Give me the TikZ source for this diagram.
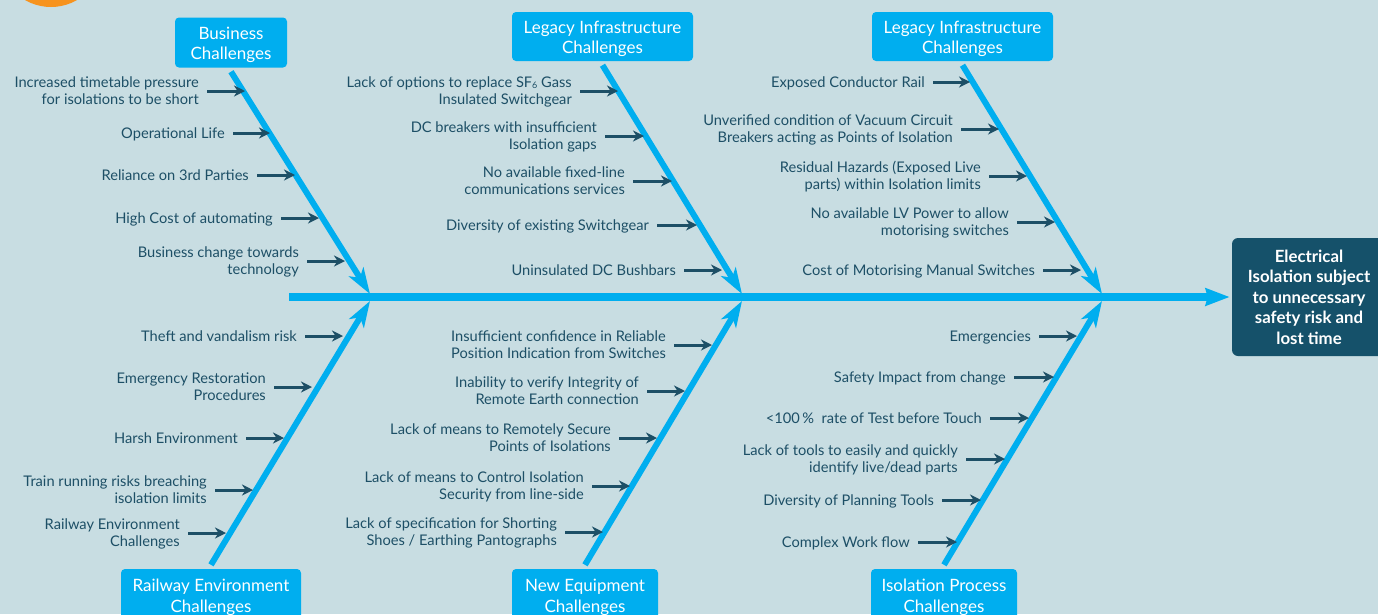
\documentclass[tikz,border=0pt]{standalone}
\usepackage{fontspec}
\setmainfont{Lato}
\usetikzlibrary{arrows.meta}
\definecolor{bgc}{RGB}{200,221,226}
\definecolor{cyanb}{RGB}{0,174,239}
\definecolor{txt}{RGB}{29,79,102}
\definecolor{headc}{RGB}{21,81,106}
\definecolor{orng}{RGB}{247,147,30}
\pgfdeclarelayer{back}
\pgfsetlayers{back,main}
\newcommand\causeitem[5]{%
  \node[cause] (#1) at (#2,#3) {\strut #5\strut};
  \coordinate (#1e) at (#4,#3);
  \draw[causearrow] ([xshift=8pt]#1.east |- #1e) -- (#1e);}
\begin{document}
\begin{tikzpicture}[x=1pt,y=-1pt,
  cause/.style={font=\fontsize{14.65}{17.3}\selectfont, text=txt, align=right, inner sep=0pt, anchor=east, yshift=-1.8pt},
  causearrow/.style={draw=txt, line width=3pt, -{Stealth[length=11pt,width=11pt,inset=3.5pt]}},
  catbox/.style={fill=cyanb, rounded corners=4pt, inner sep=0pt},
  cattext/.style={text=white, font=\fontsize{17}{20.5}\selectfont, align=center, inner sep=0pt, yshift=-2.3pt},
  bone/.style={draw=cyanb, line width=6pt, -{Stealth[length=26pt,width=17pt,inset=7pt]}},
  spine/.style={draw=cyanb, line width=8pt, -{Stealth[length=24pt,width=17pt,inset=2pt]}, shorten >=2pt},
  headbox/.style={fill=headc, rounded corners=6pt, text=white, font=\bfseries\fontsize{16.8}{20.5}\selectfont, align=center, inner sep=0pt, minimum width=154pt, minimum height=118pt}
  ]
\useasboundingbox (0,0) rectangle (1378,614);
\begin{pgfonlayer}{back}
  \fill[bgc] (0,0) rectangle (1378,614);
  \fill[orng] (51,-45) circle (52);
\end{pgfonlayer}

% category boxes
\node[catbox, minimum width=112pt, minimum height=50pt] (bus) at (231,42.5) {};
\node[cattext] at (bus.center) {Business\\Challenges};
\node[catbox, minimum width=181pt, minimum height=49pt] (leg1) at (602.5,36.5) {};
\node[cattext] at (leg1.center) {Legacy Infrastructure\\Challenges};
\node[catbox, minimum width=181pt, minimum height=49pt] (leg2) at (962.5,36.5) {};
\node[cattext] at (leg2.center) {Legacy Infrastructure\\Challenges};
\node[catbox, minimum width=180pt, minimum height=52pt] (rail) at (211,595) {};
\node[cattext] at (rail.center) {Railway Environment\\Challenges};
\node[catbox, minimum width=146pt, minimum height=52pt] (neq) at (585,595) {};
\node[cattext] at (neq.center) {New Equipment\\Challenges};
\node[catbox, minimum width=146pt, minimum height=52pt] (iso) at (944,595) {};
\node[cattext] at (iso.center) {Isolation Process\\Challenges};

% head
\node[headbox] (head) at (1309,297) {Electrical\\Isolation subject\\to unnecessary\\safety risk and\\lost time};

% spine and bones
\coordinate (sp0) at (289,297);
\coordinate (t1) at (370,294);
\coordinate (t2) at (742,294);
\coordinate (t3) at (1102,294);
\coordinate (u1) at (370,301);
\coordinate (u2) at (742,301);
\coordinate (u3) at (1102,301);
\begin{pgfonlayer}{back}
  \draw[spine] (sp0) -- (head.west |- sp0);
  \draw[bone] ([yshift=-4pt]bus.south) -- (t1);
  \draw[bone] ([yshift=-4pt]leg1.south) -- (t2);
  \draw[bone] ([yshift=-4pt]leg2.south) -- (t3);
  \draw[bone] ([yshift=4pt]rail.north) -- (u1);
  \draw[bone] ([yshift=4pt]neq.north) -- (u2);
  \draw[bone] ([yshift=4pt]iso.north) -- (u3);
\end{pgfonlayer}

% Business
\causeitem{a1}{199}{91}{245}{Increased timetable pressure\\for isolations to be short}
\causeitem{a2}{225}{133}{270}{Operational Life}
\causeitem{a3}{249}{175}{295}{Reliance on 3rd Parties}
\causeitem{a4}{273}{218}{319}{High Cost of automating}
\causeitem{a5}{299}{261}{345}{Business change towards\\technology}

% Legacy 1
\causeitem{b1}{572}{91}{618}{Lack of options to replace SF\raisebox{-0.5pt}{\fontsize{9}{9}\selectfont 6} Gass\\Insulated Switchgear}
\causeitem{b2}{597}{136}{644}{DC breakers with insufficient\\Isolation gaps}
\causeitem{b3}{625}{181}{672}{No available fixed-line\\communications services}
\causeitem{b4}{649}{225}{697}{Diversity of existing Switchgear}
\causeitem{b5}{676}{270}{722}{Uninsulated DC Bushbars}

% Legacy 2
\causeitem{c1}{925}{82}{970}{Exposed Conductor Rail}
\causeitem{c2}{953}{129}{999}{Unverified condition of Vacuum Circuit\\Breakers acting as Points of Isolation}
\causeitem{c3}{981}{176}{1027}{Residual Hazards (Exposed Live\\parts) within Isolation limits}
\causeitem{c4}{1009}{222}{1055}{No available LV Power to allow\\motorising switches}
\causeitem{c5}{1035}{270}{1081}{Cost of Motorising Manual Switches}

% Railway
\causeitem{d1}{297}{336}{343}{Theft and vandalism risk}
\causeitem{d2}{266}{387}{312}{Emergency Restoration\\Procedures}
\causeitem{d3}{238}{438}{284}{Harsh Environment}
\causeitem{d4}{207}{490}{253}{Train running risks breaching\\isolation limits}
\causeitem{d5}{180}{533}{226}{Railway Environment\\Challenges}

% New equipment
\causeitem{e1}{666}{345}{712}{Insufficient confidence in Reliable\\Position Indication from Switches}
\causeitem{e2}{639}{391}{685}{Inability to verify Integrity of\\Remote Earth connection}
\causeitem{e3}{611}{438}{657}{Lack of means to Remotely Secure\\Points of Isolations}
\causeitem{e4}{584}{486}{630}{Lack of means to Control Isolation\\Security from line-side}
\causeitem{e5}{557}{532}{603}{Lack of specification for Shorting\\Shoes / Earthing Pantographs}

% Isolation process
\causeitem{f1}{1031}{336}{1077}{Emergencies}
\causeitem{f2}{1006}{377}{1054}{Safety Impact from change}
\causeitem{f3}{982}{418}{1029}{<100\,\%\ \ rate of Test before Touch}
\causeitem{f4}{958}{459}{1005}{Lack of tools to easily and quickly\\identify live/dead parts}
\causeitem{f5}{934}{500}{981}{Diversity of Planning Tools}
\causeitem{f6}{910}{542}{957}{Complex Work flow}
\end{tikzpicture}
\end{document}
